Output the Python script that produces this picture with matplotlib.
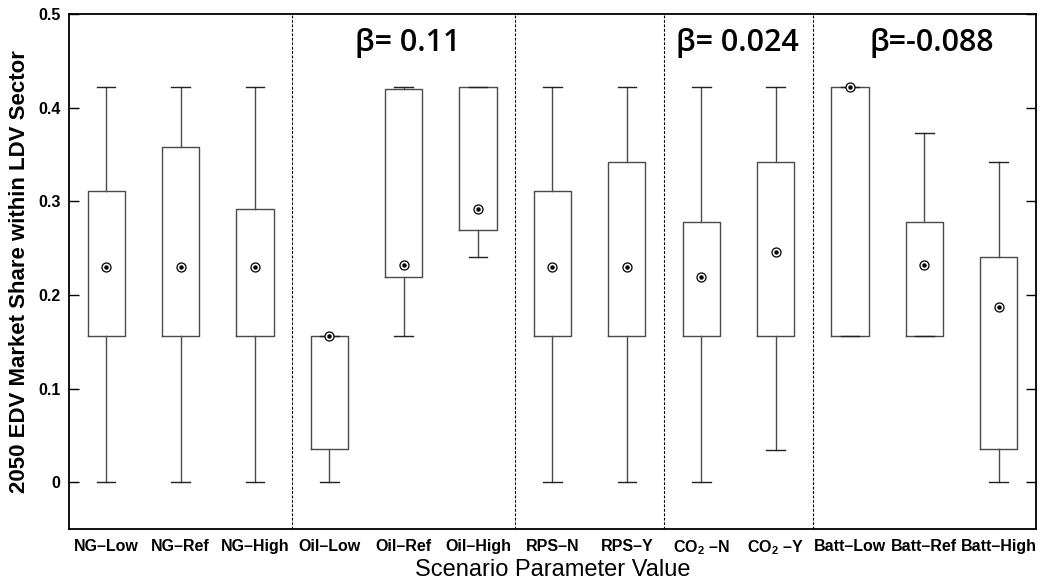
"""
Box chart of 2050 EDV market share by scenario parameter value
"""

import numpy as np
import matplotlib
matplotlib.use('Agg')
import matplotlib.pyplot as plt

plt.rcParams['font.family'] = ['Liberation Sans', 'DejaVu Sans']
plt.rcParams['mathtext.fontset'] = 'custom'
plt.rcParams['mathtext.rm'] = 'Liberation Sans:bold'
plt.rcParams['mathtext.bf'] = 'Liberation Sans:bold'

# scenario categories
labels = ['NG–Low', 'NG–Ref', 'NG–High', 'Oil–Low', 'Oil–Ref', 'Oil–High',
          'RPS–N', 'RPS–Y', 'CO$_2$ –N', 'CO$_2$ –Y',
          'Batt–Low', 'Batt–Ref', 'Batt–High']

# box statistics
q1 = [0.156, 0.156, 0.156, 0.035, 0.219, 0.269, 0.156, 0.156, 0.156, 0.156, 0.156, 0.156, 0.035]
q3 = [0.311, 0.358, 0.292, 0.156, 0.420, 0.422, 0.311, 0.342, 0.278, 0.342, 0.422, 0.278, 0.241]
medians = [0.230, 0.230, 0.230, 0.156, 0.232, 0.292, 0.230, 0.230, 0.219, 0.246, 0.422, 0.232, 0.187]
whisk_lo = [0.0, 0.0, 0.0, 0.0, 0.156, 0.241, 0.0, 0.0, 0.0, 0.034, 0.156, 0.156, 0.0]
whisk_hi = [0.422, 0.422, 0.422, 0.156, 0.422, 0.422, 0.422, 0.422, 0.422, 0.422, 0.422, 0.373, 0.342]

# group separators and regression coefficients
separators = [3.5, 6.5, 8.5, 10.5]
beta_text = ['β= 0.11', 'β= 0.024', 'β=-0.088']
beta_x = [5.05, 9.48, 12.1]

fig = plt.figure(figsize=(10.42, 5.86), dpi=100)
ax = fig.add_axes([0.0662, 0.0973, 0.928, 0.8788])

positions = np.arange(1, len(labels) + 1)
stats = [dict(med=m, q1=a, q3=b, whislo=lo, whishi=hi, fliers=[])
         for m, a, b, lo, hi in zip(medians, q1, q3, whisk_lo, whisk_hi)]

line_col = '#4a4a4a'
ax.bxp(stats, positions=positions, widths=0.5, showfliers=False,
       boxprops=dict(color=line_col, linewidth=1.0),
       whiskerprops=dict(color=line_col, linewidth=1.0, linestyle='-'),
       capprops=dict(color='#222222', linewidth=1.0),
       medianprops=dict(linewidth=0),
       capwidths=0.25)

# median target markers
ax.plot(positions, medians, 'o', mfc='white', mec='black', mew=0.9,
        markersize=6.5, linestyle='none', zorder=5)
ax.plot(positions, medians, 'o', color='black', markersize=2.2,
        linestyle='none', zorder=6)

for xs in separators:
    ax.axvline(xs, color='black', linewidth=0.8, linestyle=(0, (2.5, 1.5)))

for txt, xb in zip(beta_text, beta_x):
    ax.text(xb, 0.469, txt, ha='center', va='center', fontsize=22,
            family=['Open Sans', 'DejaVu Sans'], fontweight='semibold')

ax.set_xlim(0.5, 13.5)
ax.set_ylim(-0.05, 0.5)
ax.set_yticks([0, 0.1, 0.2, 0.3, 0.4, 0.5])
ax.set_yticklabels(['0', '0.1', '0.2', '0.3', '0.4', '0.5'],
                   fontsize=11.5, fontweight='bold')
ax.set_xticks(positions)
ax.set_xticklabels(labels, fontsize=11.5, fontweight='bold')
ax.tick_params(axis='x', length=0, pad=7)
ax.tick_params(axis='y', direction='in', length=7, width=1.0,
               right=True, pad=6)

for sp in ax.spines.values():
    sp.set_linewidth(1.3)

ax.set_ylabel('2050 EDV Market Share within LDV Sector', fontsize=16,
              fontweight='bold', labelpad=6)
ax.set_xlabel('Scenario Parameter Value', fontsize=17, labelpad=1)

fig.savefig('out.png', dpi=100)
